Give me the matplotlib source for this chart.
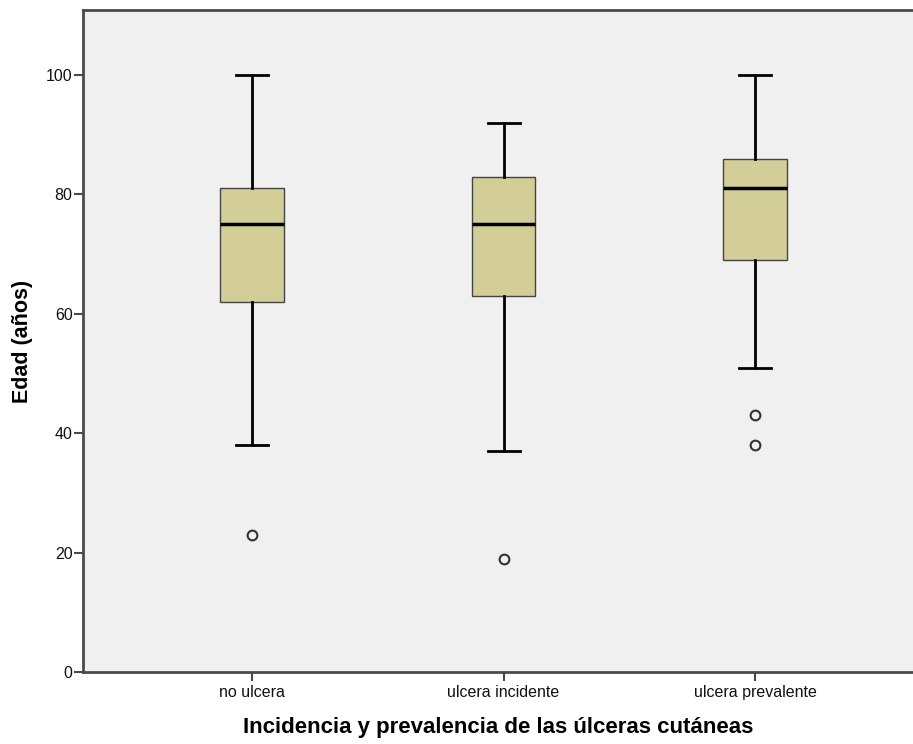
import matplotlib.pyplot as plt

categories = ['no ulcera', 'ulcera incidente', 'ulcera prevalente']
whisker_low = [38, 37, 51]
q1 = [62, 63, 69]
median = [75, 75, 81]
q3 = [81, 83, 86]
whisker_high = [100, 92, 100]
outliers = [[23], [19], [43, 38]]

plt.rcParams['font.family'] = ['Liberation Sans', 'DejaVu Sans']

fig = plt.figure(figsize=(9.13, 7.44), dpi=100)
ax = fig.add_axes([0.0909, 0.0968, 0.9091, 0.8898])
ax.set_facecolor('#f0f0f0')

stats = []
for i, name in enumerate(categories):
    stats.append({'label': name, 'whislo': whisker_low[i], 'q1': q1[i], 'med': median[i],
                  'q3': q3[i], 'whishi': whisker_high[i], 'fliers': outliers[i]})

ax.bxp(stats, positions=range(len(categories)), widths=0.254, patch_artist=True,
       boxprops=dict(facecolor='#d3ce97', edgecolor='#444444', linewidth=1),
       medianprops=dict(color='black', linewidth=2.5),
       whiskerprops=dict(color='black', linewidth=2),
       capprops=dict(color='black', linewidth=2),
       capwidths=0.127,
       flierprops=dict(marker='o', markersize=7, markerfacecolor='none',
                       markeredgecolor='#333333', markeredgewidth=1.5))

ax.set_xlim(-0.672, 2.628)
ax.set_ylim(0, 110.9)
ax.set_yticks([0, 20, 40, 60, 80, 100])

for side in ['left', 'top', 'bottom']:
    ax.spines[side].set_color('#4a4a4a')
    ax.spines[side].set_linewidth(2)
ax.spines['right'].set_visible(False)
ax.tick_params(axis='both', colors='#4a4a4a', length=6.5, width=1.5, labelsize=11.5, labelcolor='#111111')
ax.tick_params(axis='y', pad=1)
ax.tick_params(axis='x', pad=3)

ax.set_xlabel('Incidencia y prevalencia de las úlceras cutáneas', fontsize=16, fontweight='bold', labelpad=12)
ax.set_ylabel('Edad (años)', fontsize=15.5, fontweight='bold', labelpad=9)

fig.savefig('out.png', dpi=100)
